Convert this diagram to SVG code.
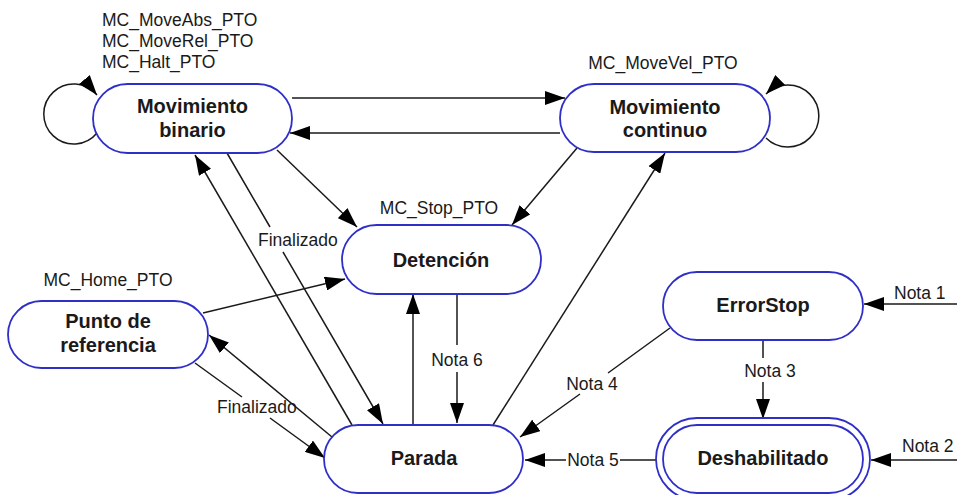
<svg xmlns="http://www.w3.org/2000/svg" width="957" height="495" viewBox="0 0 957 495">
<style>
.node{fill:#fff;stroke:#2f2fc8;stroke-width:1.8}
.t{font-family:"Liberation Sans",Arial,sans-serif;font-size:20px;font-weight:bold;fill:#1a1a1a;text-anchor:middle}
.l{font-family:"Liberation Sans",Arial,sans-serif;font-size:17.5px;fill:#1a1a1a}
.c{text-anchor:middle}
.e{fill:none;stroke:#1a1a1a;stroke-width:1.5}
</style>
<defs>
<marker id="ah" markerUnits="userSpaceOnUse" markerWidth="20" markerHeight="14" refX="20" refY="7" orient="auto">
<path d="M0,0 L20,7 L0,14 z" fill="#000"/>
</marker>
</defs>
<rect width="957" height="495" fill="#fff"/>
<g id="connectors">
<path class="e" d="M97,133 A30,30 0 1 1 97,95" marker-end="url(#ah)"/>
<path class="e" d="M766,138 A31,31 0 1 0 766,94" marker-end="url(#ah)"/>
<path class="e" d="M292,98 L565,98" marker-end="url(#ah)"/>
<path class="e" d="M560,133 L290,133" marker-end="url(#ah)"/>
<path class="e" d="M277,150 L357,227" marker-end="url(#ah)"/>
<path class="e" d="M577,148 L512,225" marker-end="url(#ah)"/>
<path class="e" d="M352,425 L195,155" marker-end="url(#ah)"/>
<path class="e" d="M227,153 L270,227 M283,252 L383,424" marker-end="url(#ah)"/>
<path class="e" d="M493,425 L665,153" marker-end="url(#ah)"/>
<path class="e" d="M203,313 L345,279" marker-end="url(#ah)"/>
<path class="e" d="M332,437 L209,335" marker-end="url(#ah)"/>
<path class="e" d="M195,363 L242,397 M270,418 L325,458" marker-end="url(#ah)"/>
<path class="e" d="M413,425 L413,294" marker-end="url(#ah)"/>
<path class="e" d="M457,294 L457,345 M457,372 L457,423" marker-end="url(#ah)"/>
<path class="e" d="M670,328 L608,373 M580,394 L520,437" marker-end="url(#ah)"/>
<path class="e" d="M656,460 L620,460 M566,460 L525,460" marker-end="url(#ah)"/>
<path class="e" d="M763,340 L763,358 M763,382 L763,419" marker-end="url(#ah)"/>
<path class="e" d="M957,304 L864,304" marker-end="url(#ah)"/>
<path class="e" d="M957,460 L871,460" marker-end="url(#ah)"/>
<text class="l" x="258" y="246">Finalizado</text>
<text class="l" x="217" y="413">Finalizado</text>
<text class="l c" x="457" y="366">Nota 6</text>
<text class="l c" x="592" y="390">Nota 4</text>
<text class="l c" x="593" y="466">Nota 5</text>
<text class="l c" x="770" y="377">Nota 3</text>
<text class="l" x="894" y="299">Nota 1</text>
<text class="l" x="902" y="452">Nota 2</text>
</g>
<g id="binario">
<rect class="node" x="93" y="84" width="199" height="69" rx="34.5"/>
<text class="t" x="192.5" y="113">Movimiento</text>
<text class="t" x="192.5" y="137">binario</text>
<text class="l" x="102" y="26">MC_MoveAbs_PTO</text>
<text class="l" x="102" y="47">MC_MoveRel_PTO</text>
<text class="l" x="102" y="68">MC_Halt_PTO</text>
</g>
<g id="continuo">
<rect class="node" x="560" y="84" width="210" height="68" rx="34"/>
<text class="t" x="665" y="114">Movimiento</text>
<text class="t" x="665" y="137">continuo</text>
<text class="l c" x="663" y="69">MC_MoveVel_PTO</text>
</g>
<g id="detencion">
<rect class="node" x="342" y="225" width="199" height="69" rx="34.5"/>
<text class="t" x="441" y="266.5">Detención</text>
<text class="l c" x="439" y="214">MC_Stop_PTO</text>
</g>
<g id="punto">
<rect class="node" x="8" y="301" width="200" height="67" rx="33.5"/>
<text class="t" x="108" y="328">Punto de</text>
<text class="t" x="108" y="352">referencia</text>
<text class="l c" x="108" y="286">MC_Home_PTO</text>
</g>
<g id="parada">
<rect class="node" x="324" y="425" width="199" height="68" rx="34"/>
<text class="t" x="424" y="465">Parada</text>
</g>
<g id="errorstop">
<rect class="node" x="663" y="272" width="200" height="68" rx="34"/>
<text class="t" x="763" y="312">ErrorStop</text>
</g>
<g id="deshabilitado">
<rect class="node" x="656" y="418" width="214" height="82" rx="41"/>
<rect class="node" x="663" y="425" width="200" height="68" rx="34"/>
<text class="t" x="763" y="465">Deshabilitado</text>
</g>
</svg>
